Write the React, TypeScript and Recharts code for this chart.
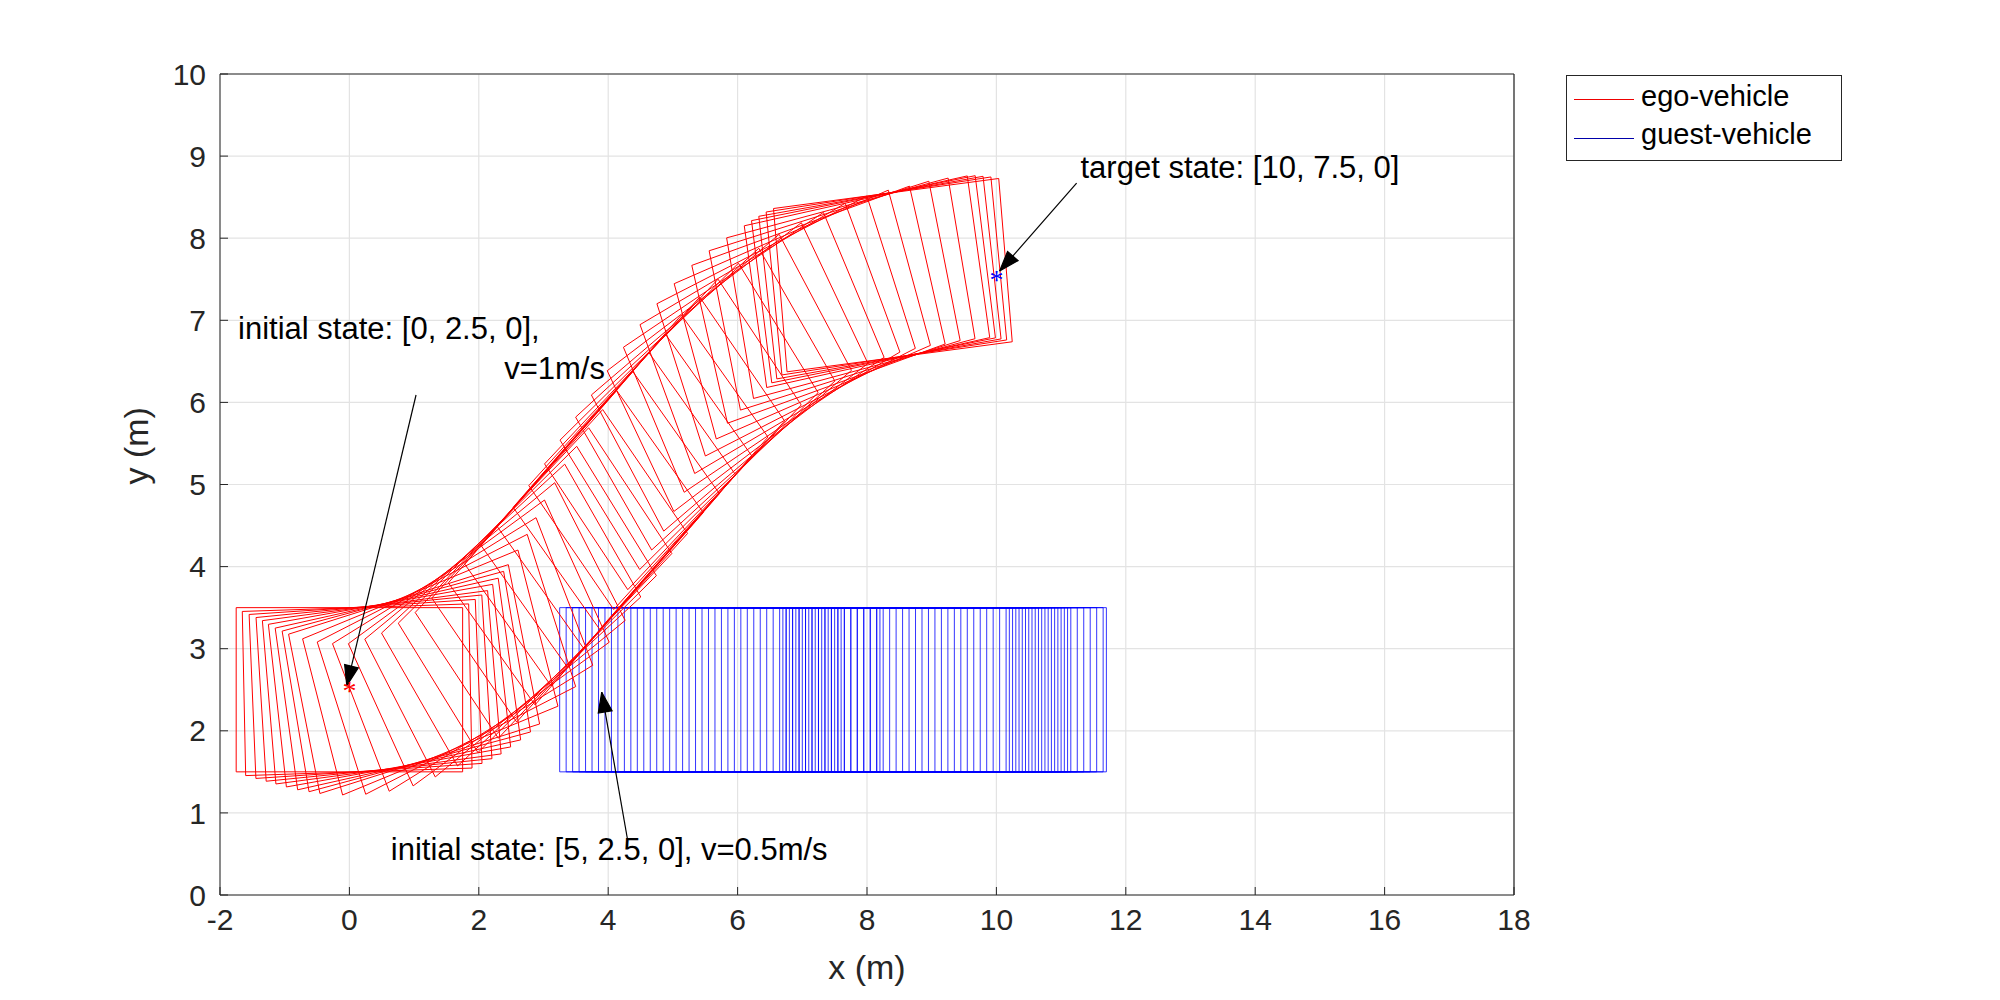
import React from 'react';
import { ScatterChart, Scatter, XAxis, YAxis, CartesianGrid, ReferenceLine, ReferenceDot, Legend } from 'recharts';

const xTicks = [-2, 0, 2, 4, 6, 8, 10, 12, 14, 16, 18];
const yTicks = [0, 1, 2, 3, 4, 5, 6, 7, 8, 9, 10];
const egoX = [0,0.12,0.25,0.38,0.5,0.62,0.75,0.88,1,1.25,1.5,1.75,2,2.25,2.5,2.75,3,3.25,3.5,3.75,4,4.25,4.5,4.75,5,5.25,5.5,5.75,6,6.25,6.5,6.75,7,7.25,7.5,7.75,8,8.1,8.2,8.3,8.4];
const egoY = [2.5,2.5,2.51,2.52,2.53,2.55,2.57,2.6,2.63,2.71,2.81,2.93,3.07,3.23,3.41,3.6,3.8,4.01,4.23,4.46,4.69,4.92,5.15,5.38,5.61,5.83,6.04,6.24,6.43,6.61,6.78,6.93,7.07,7.19,7.3,7.39,7.47,7.5,7.52,7.54,7.55];
const egoTheta = [0,1.5,3,4.5,6,8,10,12,14,18,22,26,30,33,36,38,40,41,42,42,42,42,42,41,40,38,36,34,31,28,25,22,19,16,14,12,10,9,8,7,6];
const guestX = [5.0,5.1,5.2,5.3,5.4,5.5,5.6,5.7,5.8,5.9,6.0,6.1,6.2,6.3,6.4,6.5,6.6,6.7,6.8,6.9,7.0,7.1,7.2,7.3,7.4,7.5,7.6,7.7,7.8,7.9,8.0,8.1,8.2,8.3,8.4,8.45,8.5,8.55,8.6,8.65,8.7,8.75,8.8,8.85,8.9,8.95,9.0,9.05,9.1,9.15,9.2,9.25,9.3,9.35,9.4,9.5,9.6,9.7,9.8,9.9,9.95];
const guestY = 2.5;
const carLength = 3.5;
const carWidth = 2;

function rect(cx: number, cy: number, deg: number) {
  const t = (deg * Math.PI) / 180;
  const c = Math.cos(t), s = Math.sin(t);
  const hl = carLength / 2, hw = carWidth / 2;
  const pts = [[hl, hw], [-hl, hw], [-hl, -hw], [hl, -hw], [hl, hw]];
  return pts.map(([a, b]) => ({ x: cx + a * c - b * s, y: cy + a * s + b * c }));
}

const font = 'Liberation Sans, Arial, Helvetica, sans-serif';
const none = () => null;

function arrowHead(x1: number, y1: number, x2: number, y2: number) {
  const sx = 64.7, sy = 82.1;
  const dx = (x2 - x1) * sx, dy = (y2 - y1) * sy;
  const L = Math.hypot(dx, dy);
  const ux = dx / L, uy = dy / L;
  const len = 20, w = 7;
  const bx = x2 * sx - ux * len, by = y2 * sy - uy * len;
  return [
    { x: x2, y: y2 },
    { x: (bx - uy * w) / sx, y: (by + ux * w) / sy },
    { x: (bx + uy * w) / sx, y: (by - ux * w) / sy },
    { x: x2, y: y2 },
  ];
}

const arrows = [
  [11.24, 8.67, 10.05, 7.6],
  [1.03, 6.09, -0.04, 2.55],
  [4.3, 0.67, 3.9, 2.47],
];

const Label = ({ x, y, text, anchor = 'start' }: any) => (
  <ReferenceDot x={x} y={y} r={0} ifOverflow="visible"
    label={{ value: text, position: 'center', content: (p: any) => {
      const vb = p.viewBox;
      return <text x={vb.x} y={vb.y} fontSize={31} fontFamily={font} fill="#000" textAnchor={anchor} dominantBaseline="middle">{text}</text>;
    } }} />
);

const LegendBox = () => (
  <div style={{ position: 'absolute', left: 1566, top: 75, width: 276, height: 86, border: '1.5px solid #262626', background: '#fff', fontFamily: font, fontSize: 29, boxSizing: 'border-box' }}>
    <div style={{ position: 'absolute', left: 7, top: 23, width: 60, borderTop: '1.5px solid #e00' }} />
    <div style={{ position: 'absolute', left: 74, top: 4 }}>ego-vehicle</div>
    <div style={{ position: 'absolute', left: 7, top: 62, width: 60, borderTop: '1.5px solid #00a' }} />
    <div style={{ position: 'absolute', left: 74, top: 42 }}>guest-vehicle</div>
  </div>
);

export default function App() {
  return (
    <div style={{ position: 'absolute', left: 0, top: 0, width: 2000, height: 1000, background: '#fff' }}>
      <ScatterChart width={2000} height={1000} margin={{ left: 140, right: 486, top: 74, bottom: 25 }}>
        <CartesianGrid stroke="#e3e3e3" strokeWidth={1.2} horizontalValues={yTicks} verticalValues={xTicks} />
        <XAxis type="number" dataKey="x" domain={[-2, 18]} ticks={xTicks} allowDataOverflow height={80}
          stroke="#262626" tickSize={-8} tick={{ fontSize: 30, fontFamily: font, fill: '#262626', dy: 20 }}
          label={{ value: 'x (m)', position: 'insideBottom', offset: -4, fontSize: 34, fontFamily: font, fill: '#262626' }} />
        <YAxis type="number" dataKey="y" domain={[0, 10]} ticks={yTicks} allowDataOverflow width={80}
          stroke="#262626" tickSize={-8} tick={{ fontSize: 30, fontFamily: font, fill: '#262626', dx: -20 }}
          label={{ value: 'y (m)', angle: -90, position: 'insideLeft', offset: -4, fontSize: 34, fontFamily: font, fill: '#262626' }} />
        <ReferenceLine y={10} stroke="#262626" strokeWidth={1.2} />
        <ReferenceLine x={18} stroke="#262626" strokeWidth={1.2} />
        {guestX.map((gx, i) => (
          <Scatter key={'g' + i} data={rect(gx, guestY, 0)} line={{ stroke: '#0000ff', strokeWidth: 0.8 }} shape={none} legendType="none" isAnimationActive={false} />
        ))}
        {egoX.map((ex, i) => (
          <Scatter key={'e' + i} data={rect(ex, egoY[i], egoTheta[i])} line={{ stroke: '#ff0000', strokeWidth: 1 }} shape={none} legendType="none" isAnimationActive={false} />
        ))}
        {arrows.map((a, i) => (
          <Scatter key={'a' + i} data={[{ x: a[0], y: a[1] }, { x: a[2], y: a[3] }]} line={{ stroke: '#000', strokeWidth: 1.2 }} shape={none} legendType="none" isAnimationActive={false} />
        ))}
        {arrows.map((a, i) => (
          <Scatter key={'h' + i} data={arrowHead(a[0], a[1], a[2], a[3])} line={{ stroke: '#000', strokeWidth: 1.2, fill: '#000' }} shape={none} legendType="none" isAnimationActive={false} />
        ))}
        <ReferenceDot x={0} y={2.5} r={0} shape={(p: any) => <text x={p.cx} y={p.cy + 10} fontSize={28} fill="#f00" textAnchor="middle">*</text>} />
        <ReferenceDot x={10} y={7.5} r={0} shape={(p: any) => <text x={p.cx} y={p.cy + 10} fontSize={28} fill="#00f" textAnchor="middle">*</text>} />
        {Label({ x: 11.3, y: 8.83, text: 'target state: [10, 7.5, 0]' })}
        {Label({ x: -1.72, y: 6.87, text: 'initial state: [0, 2.5, 0],' })}
        {Label({ x: 3.95, y: 6.38, text: 'v=1m/s', anchor: 'end' })}
        {Label({ x: 0.64, y: 0.52, text: 'initial state: [5, 2.5, 0], v=0.5m/s' })}
        <Legend content={() => null} />
      </ScatterChart>
      <LegendBox />
    </div>
  );
}
